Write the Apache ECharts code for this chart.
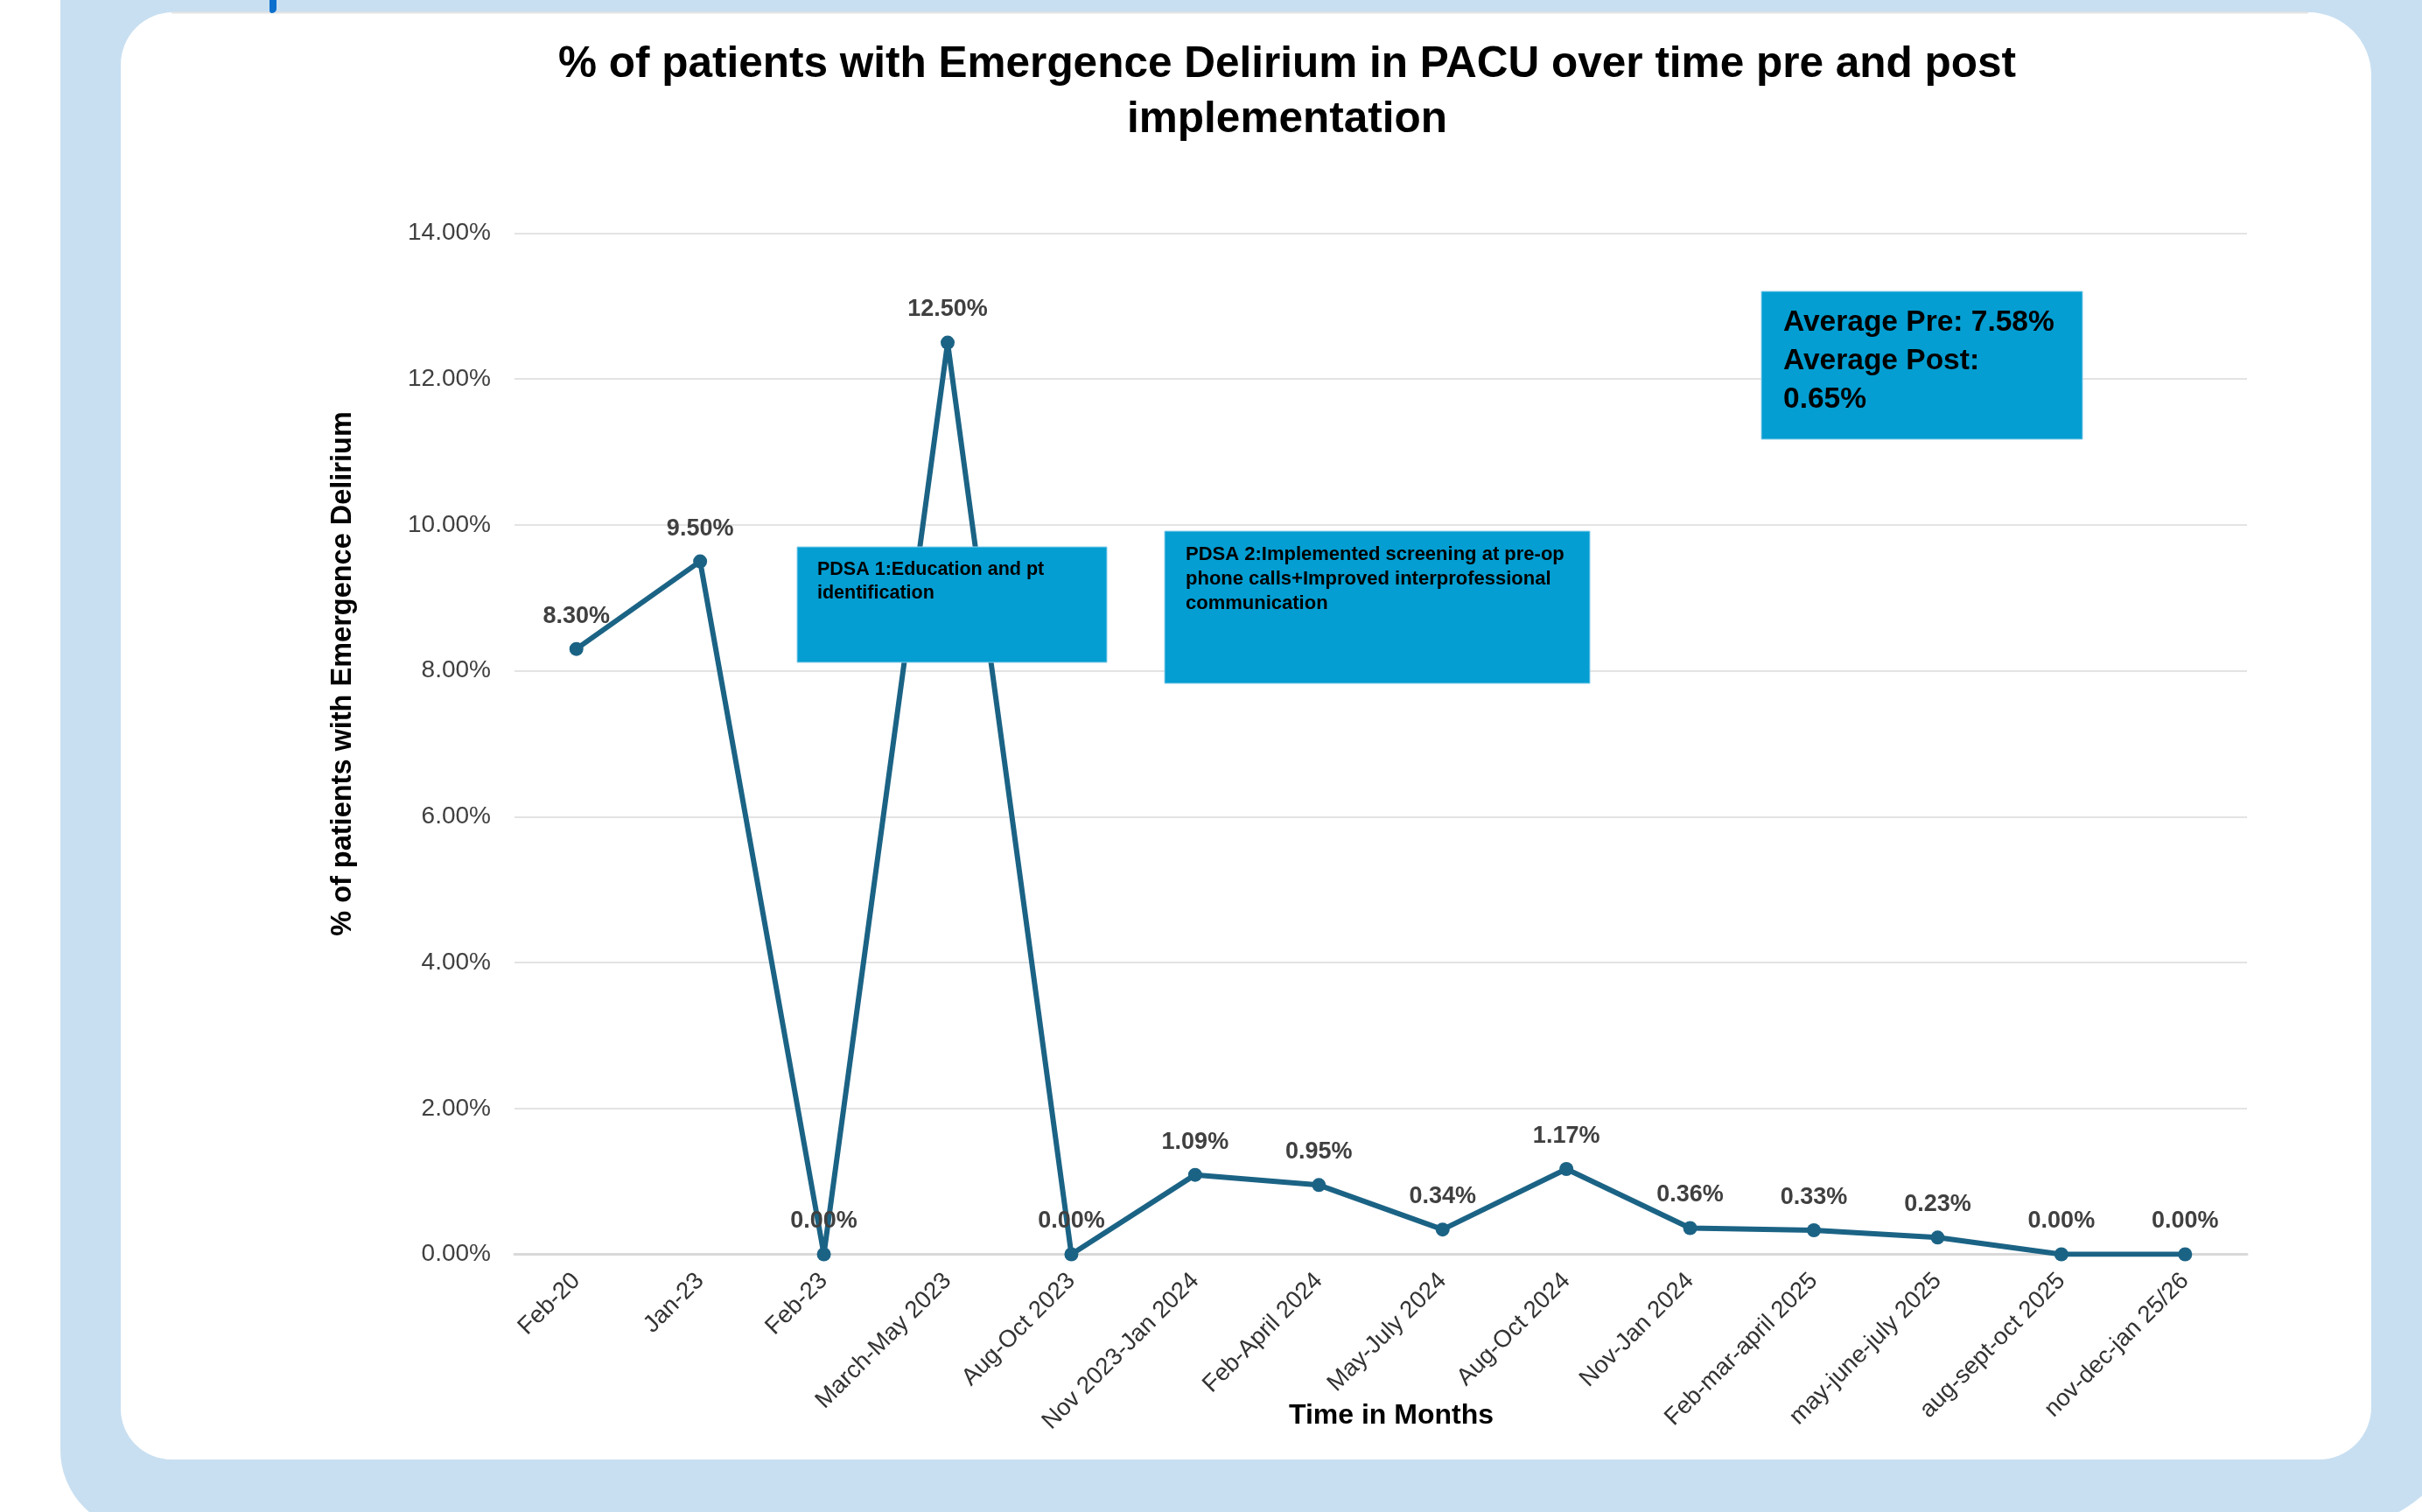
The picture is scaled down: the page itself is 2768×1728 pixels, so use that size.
<!DOCTYPE html>
<html>
<head>
<meta charset="utf-8">
<script src="https://cdn.jsdelivr.net/npm/echarts@6/dist/echarts.min.js"></script>
<style>
html,body{margin:0;padding:0;background:#fff;}
#chart{width:2768px;height:1728px;}
</style>
</head>
<body>
<div id="chart"></div>
<script>
// ---- data ----
const categories = ["Feb-20","Jan-23","Feb-23","March-May 2023","Aug-Oct 2023","Nov 2023-Jan 2024","Feb-April 2024","May-July 2024","Aug-Oct 2024","Nov-Jan 2024","Feb-mar-april 2025","may-june-july 2025","aug-sept-oct 2025","nov-dec-jan 25/26"];
const percentValues = [8.30, 9.50, 0.00, 12.50, 0.00, 1.09, 0.95, 0.34, 1.17, 0.36, 0.33, 0.23, 0.00, 0.00];
const yTicks = {min: 0, max: 14, interval: 2};
const titleText = "% of patients with Emergence Delirium in PACU over time pre and post\nimplementation";
const yAxisTitle = "% of patients with Emergence Delirium";
const xAxisTitle = "Time in Months";
const pdsa1Text = "PDSA 1:Education and pt\nidentification";
const pdsa2Text = "PDSA 2:Implemented screening at pre-op\nphone calls+Improved interprofessional\ncommunication";
const averageText = "Average Pre: 7.58%\nAverage Post:\n0.65%";

const FONT = "'Liberation Sans', Arial, Helvetica, sans-serif";
const LINE_COLOR = '#1B6385';
const BOX_COLOR = '#049ED2';

const chart = echarts.init(document.getElementById('chart'));
chart.setOption({
  backgroundColor: '#ffffff',
  animation: false,
  grid: {left: 588, right: 200, top: 266.5, bottom: 294.5, containLabel: false},
  xAxis: {
    type: 'category',
    data: categories,
    boundaryGap: true,
    axisTick: {show: false},
    axisLine: {lineStyle: {color: '#D9D9D9', width: 3}},
    axisLabel: {rotate: 45, fontSize: 27.5, fontFamily: FONT, color: '#333333', margin: 26, interval: 0}
  },
  yAxis: {
    type: 'value',
    min: yTicks.min, max: yTicks.max, interval: yTicks.interval,
    axisLine: {show: false},
    axisTick: {show: false},
    splitLine: {lineStyle: {color: '#E3E3E3', width: 2}},
    axisLabel: {fontSize: 28, fontFamily: FONT, color: '#404040', margin: 27,
      formatter: v => v.toFixed(2) + '%'}
  },
  series: [{
    type: 'line',
    data: percentValues,
    symbol: 'circle',
    symbolSize: 16,
    lineStyle: {color: LINE_COLOR, width: 6},
    itemStyle: {color: LINE_COLOR},
    z: 5,
    label: {
      show: true, position: 'top', distance: 16,
      fontSize: 27, fontWeight: 'bold', fontFamily: FONT, color: '#404040',
      formatter: p => p.value.toFixed(2) + '%'
    }
  }],
  graphic: [
    // blue frame
    {type: 'rect', z: -20, silent: true,
     shape: {x: 69, y: -300, width: 2759, height: 2050, r: [0, 0, 170, 93]},
     style: {fill: '#C8DFF1'}},
    // white card
    {type: 'rect', z: -19, silent: true,
     shape: {x: 138, y: 14, width: 2572, height: 1654, r: [60, 72, 60, 58]},
     style: {fill: '#ffffff'}},
    {type: 'line', z: -18, silent: true,
     shape: {x1: 196, y1: 14.5, x2: 2638, y2: 14.5},
     style: {stroke: '#E4E4E4', lineWidth: 2}},
    {type: 'rect', z: -18, silent: true,
     shape: {x: 308, y: 0, width: 8, height: 15, r: [0, 0, 5, 3]},
     style: {fill: '#0B6FCD'}},
    // title
    {type: 'text', z: 50, x: 1471, y: 106, silent: true,
     style: {text: titleText, font: 'bold 49.5px ' + FONT, fill: '#000000',
             align: 'center', verticalAlign: 'middle', lineHeight: 63}},
    // axis titles
    {type: 'text', z: 50, x: 392, y: 770, rotation: Math.PI / 2, silent: true,
     style: {text: yAxisTitle, font: 'bold 32.5px ' + FONT, fill: '#000000',
             align: 'center', verticalAlign: 'middle'}},
    {type: 'text', z: 50, x: 1590, y: 1618, silent: true,
     style: {text: xAxisTitle, font: 'bold 32px ' + FONT, fill: '#000000',
             align: 'center', verticalAlign: 'middle'}},
    // PDSA 1 box
    {type: 'rect', z: 100, silent: true,
     shape: {x: 911, y: 625, width: 354, height: 132},
     style: {fill: BOX_COLOR, stroke: '#8FD0EC', lineWidth: 1}},
    {type: 'text', z: 101, x: 934, y: 638, silent: true,
     style: {text: pdsa1Text, font: 'bold 21.5px ' + FONT, fill: '#000000',
             align: 'left', verticalAlign: 'top', lineHeight: 27}},
    // PDSA 2 box
    {type: 'rect', z: 100, silent: true,
     shape: {x: 1331, y: 607, width: 486, height: 174},
     style: {fill: BOX_COLOR, stroke: '#8FD0EC', lineWidth: 1}},
    {type: 'text', z: 101, x: 1355, y: 620, silent: true,
     style: {text: pdsa2Text, font: 'bold 22px ' + FONT, fill: '#000000',
             align: 'left', verticalAlign: 'top', lineHeight: 28}},
    // Average box
    {type: 'rect', z: 100, silent: true,
     shape: {x: 2013, y: 333, width: 367, height: 169},
     style: {fill: BOX_COLOR, stroke: '#8FD0EC', lineWidth: 1}},
    {type: 'text', z: 101, x: 2038, y: 347, silent: true,
     style: {text: averageText, font: 'bold 33.5px ' + FONT, fill: '#000000',
             align: 'left', verticalAlign: 'top', lineHeight: 44}}
  ]
});
</script>
</body>
</html>
